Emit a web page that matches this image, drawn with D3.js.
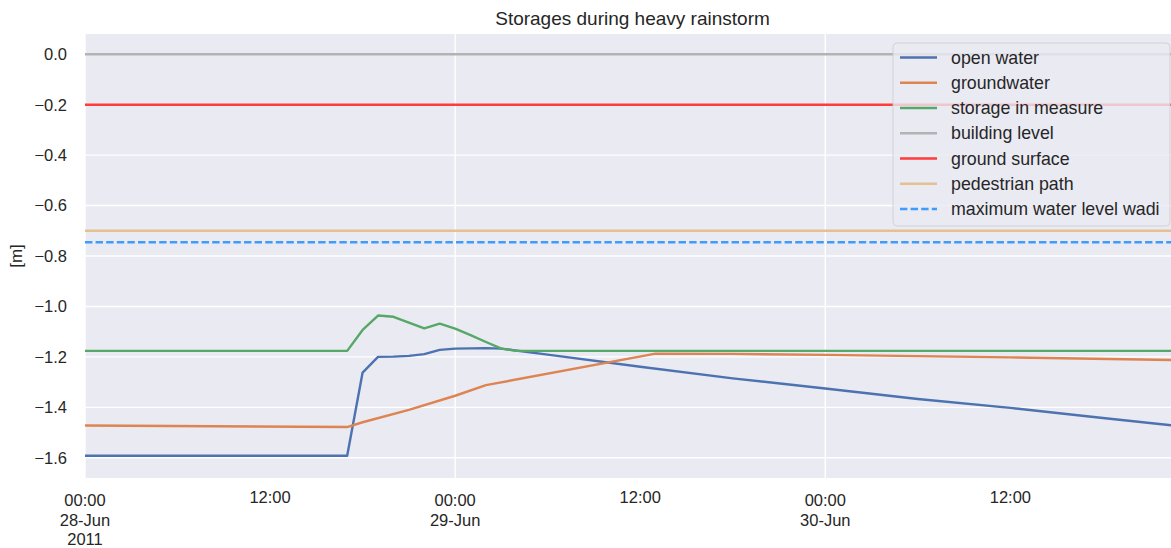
<!DOCTYPE html>
<html>
<head>
<meta charset="utf-8">
<script src="https://cdn.jsdelivr.net/npm/d3@7"></script>
<style>
  html, body { margin: 0; padding: 0; background: #ffffff; }
  svg { display: block; font-family: "Liberation Sans", Arial, sans-serif; }
</style>
</head>
<body>
<svg id="chart" width="1171" height="548"></svg>
<script>
// Water levels (m relative to building level) during the storm of 28–30 June 2011
const openWaterTime = [
  "2011-06-28 00:00", "2011-06-28 17:00", "2011-06-28 18:00", "2011-06-28 19:00",
  "2011-06-28 20:00", "2011-06-28 21:00", "2011-06-28 22:00", "2011-06-28 23:00",
  "2011-06-29 00:00", "2011-06-29 01:00", "2011-06-29 02:00", "2011-06-29 03:00",
  "2011-06-29 06:00", "2011-06-29 12:00", "2011-06-29 18:00", "2011-06-30 00:00",
  "2011-06-30 06:00", "2011-06-30 12:00", "2011-06-30 18:00", "2011-06-30 23:00"
];
const openWaterLevel = [
  -1.592, -1.592, -1.262, -1.200,
  -1.199, -1.196, -1.189, -1.172,
  -1.167, -1.166, -1.165, -1.167,
  -1.191, -1.239, -1.285, -1.325,
  -1.367, -1.402, -1.442, -1.475
];

const groundwaterTime = [
  "2011-06-28 00:00", "2011-06-28 17:00", "2011-06-28 18:00", "2011-06-28 21:00",
  "2011-06-29 00:00", "2011-06-29 02:00", "2011-06-29 13:00", "2011-06-29 18:00",
  "2011-06-30 00:00", "2011-06-30 12:00", "2011-06-30 23:00"
];
const groundwaterLevel = [
  -1.472, -1.478, -1.459, -1.410,
  -1.354, -1.312, -1.187, -1.188,
  -1.192, -1.202, -1.213
];

const measureTime = [
  "2011-06-28 00:00", "2011-06-28 17:00", "2011-06-28 18:00", "2011-06-28 19:00",
  "2011-06-28 20:00", "2011-06-28 21:00", "2011-06-28 22:00", "2011-06-28 23:00",
  "2011-06-29 00:00", "2011-06-29 01:00", "2011-06-29 02:00", "2011-06-29 03:00",
  "2011-06-29 04:00", "2011-06-30 23:00"
];
const measureLevel = [
  -1.176, -1.176, -1.093, -1.036,
  -1.041, -1.064, -1.087, -1.068,
  -1.088, -1.114, -1.141, -1.167,
  -1.176, -1.176
];

// Fixed reference levels
const buildingLevel = 0.0;
const groundSurface = -0.2;
const pedestrianPath = -0.7;
const wadiMaxLevel = -0.745;

const timeStart = "2011-06-28 00:00";
const timeEnd = "2011-06-30 23:00";

const yTicks = [0.0, -0.2, -0.4, -0.6, -0.8, -1.0, -1.2, -1.4, -1.6];
const majorTickTimes = ["2011-06-28 00:00", "2011-06-29 00:00", "2011-06-30 00:00"];
const majorTickLabels = [["00:00", "28-Jun", "2011"], ["00:00", "29-Jun"], ["00:00", "30-Jun"]];
const minorTickTimes = ["2011-06-28 12:00", "2011-06-29 12:00", "2011-06-30 12:00"];
const minorTickLabels = ["12:00", "12:00", "12:00"];

const seriesNames = [
  "open water", "groundwater", "storage in measure", "building level",
  "ground surface", "pedestrian path", "maximum water level wadi"
];

const parse = d3.timeParse("%Y-%m-%d %H:%M");

const svg = d3.select("#chart");
const margin = { left: 85, top: 34, right: 1180, bottom: 478 };
const textColor = "#262626";

const x = d3.scaleTime()
  .domain([parse(timeStart), parse(timeEnd)])
  .range([margin.left, margin.right]);
const y = d3.scaleLinear()
  .domain([-1.68, 0.08])
  .range([margin.bottom, margin.top]);

// Plot background
svg.append("rect")
  .attr("x", margin.left).attr("y", margin.top)
  .attr("width", margin.right - margin.left)
  .attr("height", margin.bottom - margin.top)
  .attr("fill", "#eaeaf2");

svg.append("clipPath").attr("id", "plot-clip")
  .append("rect")
  .attr("x", margin.left).attr("y", margin.top)
  .attr("width", margin.right - margin.left)
  .attr("height", margin.bottom - margin.top);

// Grid: horizontal at every y tick, vertical at each midnight
const grid = svg.append("g");
grid.selectAll("line.h").data(yTicks).join("line")
  .attr("class", "h")
  .attr("x1", margin.left).attr("x2", margin.right)
  .attr("y1", d => y(d)).attr("y2", d => y(d))
  .attr("stroke", "#ffffff").attr("stroke-width", 1.4);
grid.selectAll("line.v").data(majorTickTimes).join("line")
  .attr("class", "v")
  .attr("x1", d => x(parse(d))).attr("x2", d => x(parse(d)))
  .attr("y1", margin.top).attr("y2", margin.bottom)
  .attr("stroke", "#ffffff").attr("stroke-width", 1.4);

// Y axis labels
const fmt = d3.format(".1f");
svg.append("g").selectAll("text").data(yTicks).join("text")
  .attr("x", 67).attr("y", d => y(d))
  .attr("dy", "0.36em")
  .attr("text-anchor", "end")
  .attr("font-size", 16.5)
  .attr("fill", textColor)
  .text(d => fmt(d));

svg.append("text")
  .attr("transform", `translate(22,${(margin.top + margin.bottom) / 2}) rotate(-90)`)
  .attr("text-anchor", "middle")
  .attr("font-size", 17)
  .attr("fill", textColor)
  .text("[m]");

// X axis labels: midnight ticks carry the date, noon ticks only the hour
const xMajor = svg.append("g").selectAll("text").data(majorTickTimes).join("text")
  .attr("text-anchor", "middle")
  .attr("font-size", 16.5)
  .attr("fill", textColor);
xMajor.each(function (d, i) {
  const t = d3.select(this);
  majorTickLabels[i].forEach((line, k) => {
    t.append("tspan")
      .attr("x", x(parse(d)))
      .attr("y", 506 + k * 19.5)
      .text(line);
  });
});
svg.append("g").selectAll("text").data(minorTickTimes).join("text")
  .attr("x", d => x(parse(d)))
  .attr("y", 503)
  .attr("text-anchor", "middle")
  .attr("font-size", 16.5)
  .attr("fill", textColor)
  .text((d, i) => minorTickLabels[i]);

// Title
svg.append("text")
  .attr("x", (margin.left + margin.right) / 2)
  .attr("y", 24.5)
  .attr("text-anchor", "middle")
  .attr("font-size", 19)
  .attr("fill", textColor)
  .text("Storages during heavy rainstorm");

// Series
const plot = svg.append("g").attr("clip-path", "url(#plot-clip)");
const line = d3.line().x(d => x(d[0])).y(d => y(d[1]));
const zipSeries = (times, vals) => times.map((t, i) => [parse(t), vals[i]]);
const flat = v => [[parse(timeStart), v], [parse(timeEnd), v]];

const styles = [
  { data: zipSeries(openWaterTime, openWaterLevel), color: "#4c72b0", width: 2.4, dash: null },
  { data: zipSeries(groundwaterTime, groundwaterLevel), color: "#dd8452", width: 2.4, dash: null },
  { data: zipSeries(measureTime, measureLevel), color: "#55a868", width: 2.4, dash: null },
  { data: flat(buildingLevel), color: "#b3b3b3", width: 2.5, dash: null },
  { data: flat(groundSurface), color: "#ff3b3b", width: 2.5, dash: null },
  { data: flat(pedestrianPath), color: "#e4c093", width: 2.5, dash: null },
  { data: flat(wadiMaxLevel), color: "#3f9cff", width: 2.5, dash: "7.4,3.2" }
];

styles.forEach(s => {
  plot.append("path")
    .datum(s.data)
    .attr("d", line)
    .attr("fill", "none")
    .attr("stroke", s.color)
    .attr("stroke-width", s.width)
    .attr("stroke-dasharray", s.dash)
    .attr("stroke-linejoin", "round")
    .attr("stroke-linecap", s.dash ? "butt" : "square");
});

// Legend (upper right, semi-transparent frame)
const legend = svg.append("g");
legend.append("rect")
  .attr("x", 893).attr("y", 43)
  .attr("width", 277).attr("height", 183)
  .attr("rx", 4).attr("ry", 4)
  .attr("fill", "#eaeaf2").attr("fill-opacity", 0.8)
  .attr("stroke", "#cccccc").attr("stroke-opacity", 0.8).attr("stroke-width", 1);

seriesNames.forEach((name, i) => {
  const cy = 57.5 + i * 25.25;
  legend.append("line")
    .attr("x1", 900).attr("x2", 937)
    .attr("y1", cy).attr("y2", cy)
    .attr("stroke", styles[i].color)
    .attr("stroke-width", styles[i].width)
    .attr("stroke-dasharray", styles[i].dash);
  legend.append("text")
    .attr("x", 951).attr("y", cy)
    .attr("dy", "0.35em")
    .attr("font-size", 17.8)
    .attr("fill", textColor)
    .text(name);
});
</script>
</body>
</html>
